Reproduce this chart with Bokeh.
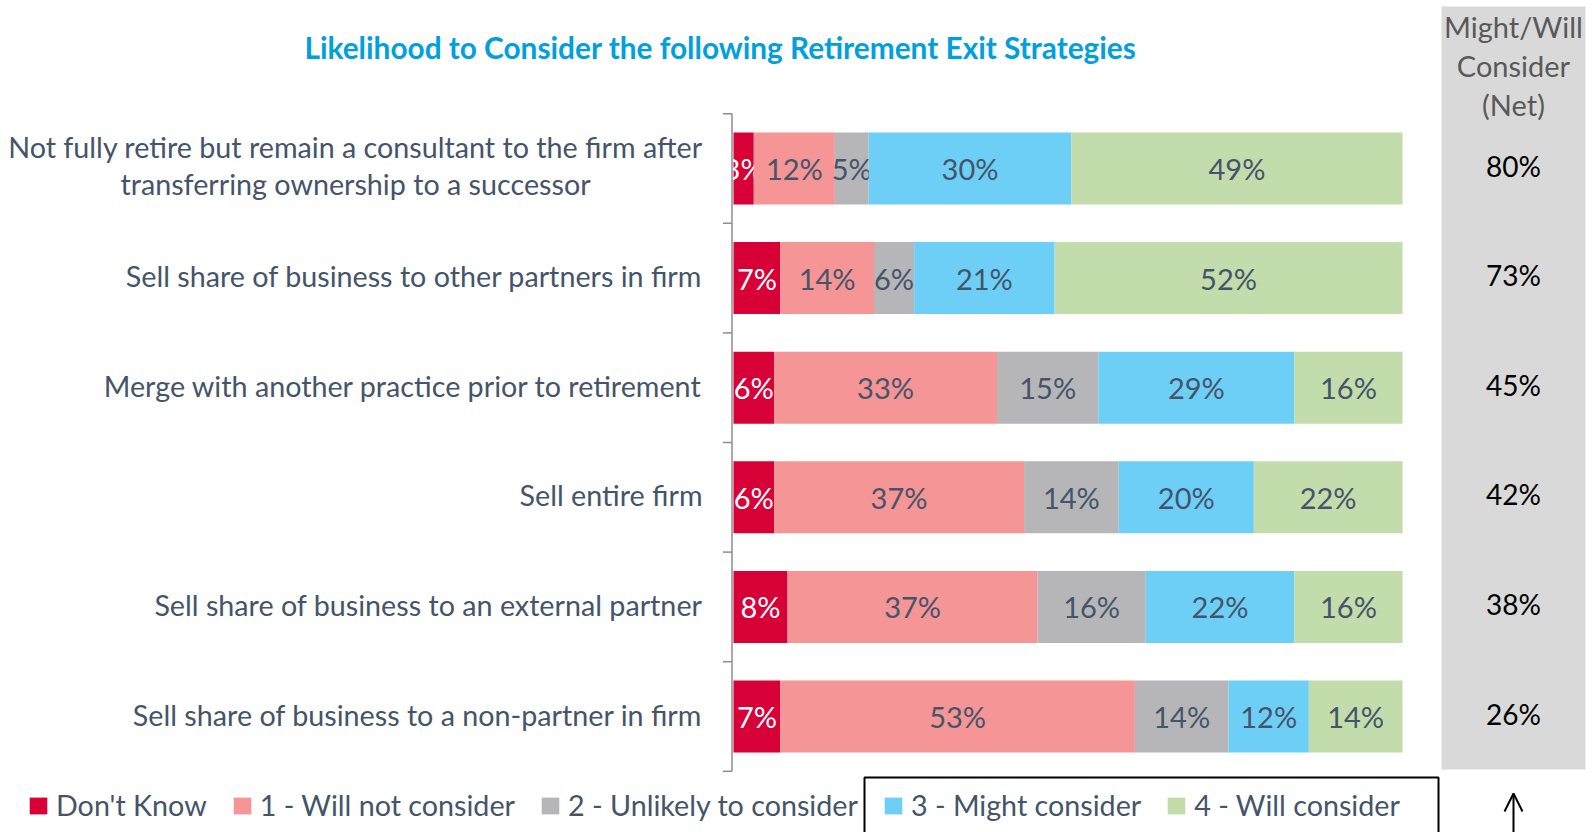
import numpy as np
from bokeh.plotting import figure
from bokeh.models import (Range1d, Label, BoxAnnotation, Legend, LegendItem,
                          Arrow, OpenHead, ColumnDataSource)
from bokeh.core.properties import value
from bokeh.embed import file_html
from bokeh.resources import INLINE

# ---------------- data ----------------
title_text = "Likelihood to Consider the following Retirement Exit Strategies"
categories = [
    "Not fully retire but remain a consultant to the firm after\ntransferring ownership to a successor",
    "Sell share of business to other partners in firm",
    "Merge with another practice prior to retirement",
    "Sell entire firm",
    "Sell share of business to an external partner",
    "Sell share of business to a non-partner in firm",
]
series = ["Don't Know", "1 - Will not consider", "2 - Unlikely to consider",
          "3 - Might consider", "4 - Will consider"]
dont_know = [3, 7, 6, 6, 8, 7]
will_not = [12, 14, 33, 37, 37, 53]
unlikely = [5, 6, 15, 14, 16, 14]
might = [30, 21, 29, 20, 22, 12]
will = [49, 52, 16, 22, 16, 14]
net_header = "Might/Will\nConsider\n(Net)"
net = [80, 73, 45, 42, 38, 26]

# ---------------- style / layout ----------------
colors = ["#d70037", "#f59595", "#b6b6b8", "#6dcff6", "#c2dcab"]
label_colors = ["#ffffff", "#44546a", "#44546a", "#44546a", "#44546a"]
TEXT = "#44546a"
AXIS = "#8c8c8c"
FONT = "Lato"

W, H = 1596, 832
X0, X100 = 733, 1402        # page x of 0% and 100%
Y_FIRST, ROW = 168, 109.6   # page y of first bar centre, row pitch


def dx(X):
    return (X - X0) * 100.0 / (X100 - X0)


def dy(Y):
    return (Y - Y_FIRST) / ROW


p = figure(width=W, height=H, output_backend="svg", toolbar_location=None,
           x_range=Range1d(dx(0), dx(W)), y_range=Range1d(dy(H), dy(0)),
           x_axis_location=None, y_axis_location=None,
           min_border_left=0, min_border_right=0, min_border_top=0, min_border_bottom=0,
           outline_line_color=None, background_fill_color="white",
           border_fill_color="white")
p.grid.visible = False

n = len(categories)
ys = list(range(n))

# right-hand net panel
p.quad(left=[dx(1441)], right=[dx(1585)], top=[dy(6)], bottom=[dy(769)],
       fill_color="#d9d9d9", line_color=None)

# stacked bars (each row drawn as a full 100% bar)
rows = np.array([dont_know, will_not, unlikely, might, will], dtype=float)
shares = rows / rows.sum(axis=0) * 100.0
right = np.cumsum(shares, axis=0)
left = right - shares
renderers = []
for k, name in enumerate(series):
    src = ColumnDataSource(dict(
        y=ys, left=left[k], right=right[k], mid=(left[k] + right[k]) / 2.0,
        lab=[f"{int(v)}%" for v in rows[k]]))
    r = p.hbar(y="y", left="left", right="right", height=0.657, source=src,
               fill_color=colors[k], line_color=None)
    renderers.append(r)
    p.text(x="mid", y="y", text="lab", source=src, text_align="center",
           text_baseline="middle", text_font=value(FONT), text_font_size="29px",
           text_color=label_colors[k])

# category labels (left of the axis)
single = [i for i, c in enumerate(categories) if "\n" not in c]
multi = [i for i, c in enumerate(categories) if "\n" in c]
p.text(x=[dx(702)] * len(single), y=single, text=[categories[i] for i in single],
       text_align="right", text_baseline="middle", text_font=value(FONT),
       text_font_size="28.7px", text_color=TEXT, y_offset=-2)
p.text(x=[dx(355)] * len(multi), y=multi, text=[categories[i] for i in multi],
       text_align="center", text_baseline="middle", text_font=value(FONT),
       text_font_size="28.7px", text_color=TEXT, text_line_height=1.09, y_offset=-3)

# category axis: line plus ticks at category boundaries
bounds = [i - 0.5 for i in range(n + 1)]
p.segment(x0=[dx(731.5)], y0=[bounds[0]], x1=[dx(731.5)], y1=[bounds[-1]],
          line_color=AXIS, line_width=1.5)
p.segment(x0=[dx(722.5)] * len(bounds), y0=bounds, x1=[dx(731.5)] * len(bounds),
          y1=bounds, line_color=AXIS, line_width=1.5)

# net values
p.text(x=[dx(1513)] * n, y=ys, text=[f"{v}%" for v in net], text_align="center",
       text_baseline="middle", text_font=value(FONT), text_font_size="28px",
       text_color="#000000", y_offset=-3)

# title and net header
p.add_layout(Label(x=720, y=H - 47, x_units="screen", y_units="screen",
                   text=title_text, text_align="center", text_baseline="middle",
                   text_font=FONT, text_font_style="bold", text_font_size="29.8px",
                   text_color="#00a0dc"))
p.add_layout(Label(x=1513, y=H - 65, x_units="screen", y_units="screen",
                   text=net_header, text_align="center", text_baseline="middle",
                   text_font=FONT, text_font_size="29px", text_color="#595959",
                   text_line_height=1.12))

# legend
legend = Legend(items=[LegendItem(label=s, renderers=[r]) for s, r in zip(series, renderers)],
                orientation="horizontal", location=(27, 10), padding=0, margin=0,
                spacing=24, label_standoff=7, glyph_width=22, glyph_height=21,
                label_text_font=FONT, label_text_font_size="28.7px", label_text_color=TEXT,
                border_line_color=None, background_fill_alpha=0)
p.add_layout(legend)

# highlight box round the "might / will" legend entries and arrow to the net column
p.add_layout(BoxAnnotation(left=dx(864), right=dx(1438), top=dy(777), bottom=dy(900),
                           fill_alpha=0, line_color="black", line_alpha=1, line_width=2))
p.add_layout(Arrow(end=OpenHead(size=18, line_width=2, line_color="black"),
                   x_start=dx(1513), y_start=dy(900), x_end=dx(1513), y_end=dy(793),
                   line_width=2, line_color="black"))

open("out.html", "w").write(file_html(p, INLINE))
